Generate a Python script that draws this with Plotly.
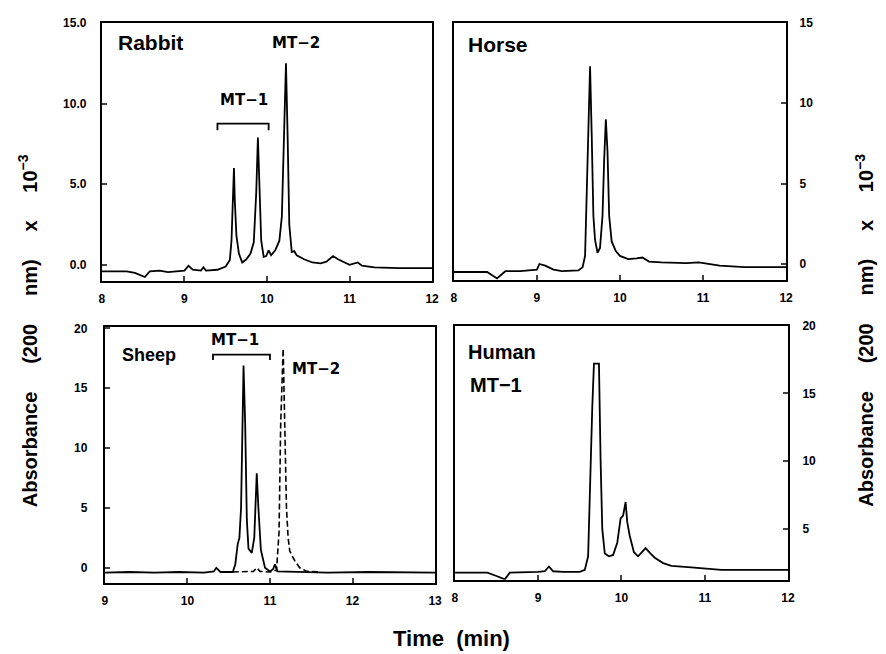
import plotly.graph_objects as go

W, H = 886, 654

# ---------------- data ----------------
rabbit_t = [8.0, 8.3, 8.4, 8.52, 8.58, 8.7, 8.8, 9.0, 9.05, 9.1, 9.2, 9.23, 9.26, 9.4, 9.5,
            9.55, 9.57, 9.59, 9.6, 9.61, 9.63, 9.66, 9.7, 9.75, 9.8, 9.84, 9.87, 9.89, 9.91, 9.93,
            9.96, 9.99, 10.02, 10.05, 10.1, 10.15, 10.18, 10.2, 10.23, 10.25, 10.27, 10.3, 10.33,
            10.36, 10.45, 10.55, 10.65, 10.72, 10.8, 10.86, 10.93, 11.0, 11.1, 11.15, 11.3, 11.6, 12.0]
rabbit_a = [-0.4, -0.4, -0.5, -0.75, -0.4, -0.35, -0.45, -0.35, -0.05, -0.3, -0.35, -0.15, -0.35, -0.3, -0.1,
            0.3, 1.5, 4.5, 6.0, 4.0, 1.8, 0.7, 0.15, 0.35, 0.7, 1.4, 4.5, 7.9, 5.0, 1.5,
            0.5, 0.55, 0.9, 0.6, 0.9, 1.5, 3.0, 7.0, 12.5, 8.0, 2.5, 0.8, 0.85,
            0.6, 0.35, 0.15, 0.1, 0.2, 0.55, 0.35, 0.15, 0.0, 0.15, -0.05, -0.15, -0.2, -0.2]

horse_t = [8.0, 8.4, 8.52, 8.62, 8.8, 9.0, 9.03, 9.1, 9.2, 9.3, 9.5, 9.55, 9.58, 9.6, 9.62,
           9.64, 9.66, 9.68, 9.7, 9.73, 9.76, 9.79, 9.81, 9.83, 9.85, 9.87, 9.9, 9.95, 10.0, 10.1,
           10.2, 10.27, 10.35, 10.5, 10.8, 10.95, 11.2, 11.5, 12.0]
horse_a = [-0.5, -0.5, -0.9, -0.45, -0.45, -0.35, 0.0, -0.1, -0.35, -0.45, -0.4, -0.2, 0.5, 4.0, 9.0,
           12.3, 8.0, 3.0, 1.5, 0.7, 1.0, 3.0, 6.5, 9.0, 7.0, 3.0, 1.4, 0.8, 0.5, 0.3,
           0.35, 0.4, 0.15, 0.1, 0.05, 0.1, -0.1, -0.2, -0.2]

sheep1_t = [9.0, 9.3, 9.6, 9.9, 10.2, 10.32, 10.35, 10.4, 10.55, 10.58, 10.61, 10.63, 10.65, 10.67, 10.68,
            10.7, 10.72, 10.74, 10.78, 10.81, 10.83, 10.84, 10.86, 10.89, 10.94, 11.0, 11.04, 11.06, 11.09,
            11.3, 11.7, 12.2, 12.6, 13.0]
sheep1_a = [-0.4, -0.35, -0.4, -0.35, -0.4, -0.3, 0.0, -0.35, -0.35, 0.3, 2.0, 2.5, 5.0, 12.0, 16.9,
            12.0, 4.0, 1.6, 1.25, 2.5, 6.0, 7.9, 5.0, 1.5, 0.0, -0.3, -0.1, 0.3, -0.3,
            -0.35, -0.4, -0.35, -0.4, -0.4]

sheep2_t = [10.55, 10.7, 10.8, 10.84, 10.88, 11.0, 11.08, 11.11, 11.13, 11.16, 11.18, 11.2, 11.22, 11.24,
            11.3, 11.36, 11.45, 11.6]
sheep2_a = [-0.35, -0.35, -0.3, 0.0, -0.3, -0.35, -0.2, 3.0, 12.0, 18.3, 12.0, 5.0, 2.5, 1.4,
            0.6, 0.0, -0.3, -0.35]

human_t = [8.0, 8.39, 8.5, 8.6, 8.66, 8.8, 9.0, 9.08, 9.13, 9.18, 9.3, 9.5, 9.56, 9.6, 9.62,
           9.65, 9.67, 9.73, 9.75, 9.77, 9.8, 9.85, 9.9, 9.95, 9.99, 10.02, 10.05, 10.07, 10.1, 10.15,
           10.2, 10.24, 10.29, 10.35, 10.4, 10.5, 10.6, 10.8, 11.0, 11.2, 12.0]
human_a = [1.8, 1.8, 1.55, 1.3, 1.8, 1.8, 1.85, 1.9, 2.25, 1.9, 1.85, 1.85, 2.0, 3.0, 8.0,
           14.0, 17.2, 17.2, 10.0, 5.0, 3.2, 3.0, 3.1, 4.0, 5.8, 6.0, 7.0, 5.5, 4.5, 3.3,
           3.0, 3.3, 3.6, 3.2, 2.9, 2.5, 2.3, 2.2, 2.1, 2.0, 2.0]

# tick values / labels
ticks_x_8_12 = [8, 9, 10, 11, 12]
ticks_x_9_13 = [9, 10, 11, 12, 13]
rabbit_yticks = [0, 5, 10, 15]
rabbit_ylabels = ["0.0", "5.0", "10.0", "15.0"]
horse_yticks = [0, 5, 10, 15]
sheep_yticks = [0, 5, 10, 15, 20]
human_yticks = [5, 10, 15, 20]

# bracket spans (x from, x to, top y, end y)
rabbit_bracket = [9.40, 10.02, 8.76, 8.35]
sheep_bracket = [10.31, 11.0, 17.8, 17.35]

# ---------------- layout helpers (page pixels) ----------------
def px(x):
    return x / W

def py(y):
    return 1 - y / H

def dom_x(a, b):
    return [px(a), px(b)]

def dom_y(top, bottom):
    return [py(bottom), py(top)]

TICKFONT = dict(family="Liberation Sans, Arial, sans-serif", size=12, color="black", weight="bold")
LBL = "Liberation Sans, Arial, sans-serif"
MTF = "DejaVu Sans, sans-serif"

fig = go.Figure()
line = dict(color="black", width=1.8)
fig.add_trace(go.Scatter(x=rabbit_t, y=rabbit_a, mode="lines", line=line, xaxis="x", yaxis="y"))
fig.add_trace(go.Scatter(x=horse_t, y=horse_a, mode="lines", line=line, xaxis="x2", yaxis="y2"))
fig.add_trace(go.Scatter(x=sheep1_t, y=sheep1_a, mode="lines", line=line, xaxis="x3", yaxis="y3"))
fig.add_trace(go.Scatter(x=sheep2_t, y=sheep2_a, mode="lines",
                         line=dict(color="black", width=1.6, dash="6px,3px"), xaxis="x3", yaxis="y3"))
fig.add_trace(go.Scatter(x=human_t, y=human_a, mode="lines", line=line, xaxis="x4", yaxis="y4"))

def xax(domain, rng, tv, anchor):
    return dict(domain=domain, range=rng, tickvals=tv, ticks="inside", ticklen=5, tickwidth=1.5,
                showline=True, mirror=True, linecolor="black", linewidth=2, showgrid=False,
                zeroline=False, tickfont=TICKFONT, anchor=anchor, ticklabelstandoff=6)

def yax(domain, rng, tv, anchor, side, tt=None, standoff=10):
    d = dict(domain=domain, range=rng, tickvals=tv, ticks="inside", ticklen=5, tickwidth=1.5,
             showline=True, mirror=True, linecolor="black", linewidth=2, showgrid=False,
             zeroline=False, tickfont=TICKFONT, anchor=anchor, side=side, ticklabelstandoff=standoff)
    if tt is not None:
        d["ticktext"] = tt
    return d

fig.update_layout(
    width=W, height=H, autosize=False, showlegend=False,
    margin=dict(l=0, r=0, t=0, b=0),
    paper_bgcolor="white", plot_bgcolor="white",
    xaxis=xax(dom_x(100, 434), [8, 12], ticks_x_8_12, "y"),
    yaxis=yax(dom_y(16, 277), [-1, 15], rabbit_yticks, "x", "left", rabbit_ylabels, 11),
    xaxis2=xax(dom_x(456, 792), [8, 12], ticks_x_8_12, "y2"),
    yaxis2=yax(dom_y(16, 276), [-1, 15], horse_yticks, "x2", "right", None, 9),
    xaxis3=xax(dom_x(103, 437), [9, 13], ticks_x_9_13, "y3"),
    yaxis3=yax(dom_y(323, 582), [-1.25, 20.15], sheep_yticks, "x3", "left", None, 13),
    xaxis4=xax(dom_x(457, 794), [8, 12], ticks_x_8_12, "y4"),
    yaxis4=yax(dom_y(322, 579), [1.27, 20], human_yticks, "x4", "right", None, 10),
)

def ann(text, x, y, xref, yref, size, family=LBL, xanchor="left", yanchor="middle"):
    fig.add_annotation(text=text, x=x, y=y, xref=xref, yref=yref, showarrow=False,
                       font=dict(family=family, size=size, color="black", weight="bold"),
                       xanchor=xanchor, yanchor=yanchor, borderpad=0)

ann("Rabbit", 8.18, 13.75, "x", "y", 21)
ann("MT−2", 10.35, 13.75, "x", "y", 15, MTF, "center")
ann("MT−1", 9.72, 10.2, "x", "y", 15, MTF, "center")
ann("Horse", 8.16, 13.65, "x2", "y2", 21)
ann("Sheep", 9.2, 17.75, "x3", "y3", 18)
ann("MT−1", 10.58, 19.0, "x3", "y3", 15, MTF, "center")
ann("MT−2", 11.26, 16.6, "x3", "y3", 15, MTF, "left")
ann("Human", 8.15, 18.05, "x4", "y4", 20)
ann("MT−1", 8.17, 15.65, "x4", "y4", 20)

def bracket(b, xref, yref):
    x0, x1, ytop, yend = b
    fig.add_shape(type="path", xref=xref, yref=yref,
                  path=f"M {x0} {yend} L {x0} {ytop} L {x1} {ytop} L {x1} {yend}",
                  line=dict(color="black", width=1.8))

bracket(rabbit_bracket, "x", "y")
bracket(sheep_bracket, "x3", "y3")

ytitle = "Absorbance     (200     nm)     x     10<sup>−3</sup>"
TFONT = dict(family=LBL, size=20, color="black", weight="bold")
fig.add_annotation(text=ytitle, x=px(25), y=py(327), xref="paper", yref="paper", showarrow=False,
                   textangle=-90, font=TFONT, xanchor="center", yanchor="middle")
fig.add_annotation(text=ytitle, x=px(871), y=py(327), xref="paper", yref="paper", showarrow=False,
                   textangle=-90, font=TFONT, xanchor="center", yanchor="middle")
fig.add_annotation(text="Time  (min)", x=px(454), y=py(638), xref="paper", yref="paper",
                   showarrow=False, font=dict(family=LBL, size=22, color="black", weight="bold"),
                   xanchor="center", yanchor="middle")

fig.write_html(
    "out.html",
    config={"displayModeBar": False},
    post_script="document.body.style.margin='0';document.body.style.overflow='hidden';"
                "document.documentElement.style.overflow='hidden';",
)
